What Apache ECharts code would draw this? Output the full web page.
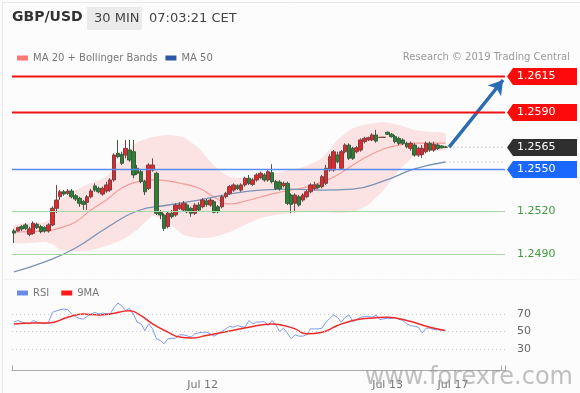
<!DOCTYPE html>
<html><head><meta charset="utf-8">
<script src="https://cdn.jsdelivr.net/npm/echarts@6/dist/echarts.min.js"></script>
<style>html,body{margin:0;padding:0;background:#fcfcfc}#c{width:580px;height:393px}</style>
</head><body><div id="c"></div>
<script>
// ---- data ----
const slotCount = 128;
const tickSlots = [49, 97, 114];
const tickLabels = ['Jul 12', 'Jul 13', 'Jul 17'];

// [open, close, low, high]
const candles = [
[1.25062,1.25047,1.24977,1.25076],[1.25062,1.25085,1.25057,1.25092],[1.25092,1.25076,1.25062,1.25104],[1.25104,1.25080,1.25068,1.25116],
[1.25038,1.25076,1.25025,1.25092],[1.25045,1.25116,1.25035,1.25130],[1.25109,1.25085,1.25075,1.25120],[1.25092,1.25057,1.25045,1.25104],
[1.25085,1.25062,1.25050,1.25095],[1.25062,1.25104,1.25050,1.25116],[1.25104,1.25221,1.25095,1.25235],[1.25221,1.25279,1.25188,1.25385],
[1.25302,1.25337,1.25280,1.25350],[1.25337,1.25321,1.25309,1.25350],[1.25326,1.25342,1.25315,1.25356],[1.25342,1.25302,1.25291,1.25356],
[1.25309,1.25286,1.25272,1.25321],[1.25291,1.25256,1.25232,1.25302],[1.25267,1.25249,1.25209,1.25279],[1.25263,1.25302,1.25209,1.25314],
[1.25302,1.25342,1.25291,1.25356],[1.25378,1.25349,1.25337,1.25396],[1.25361,1.25337,1.25326,1.25373],[1.25321,1.25361,1.25309,1.25373],
[1.25342,1.25385,1.25330,1.25408],[1.25349,1.25420,1.25337,1.25432],[1.25420,1.25595,1.25408,1.25607],[1.25607,1.25583,1.25572,1.25701],
[1.25600,1.25537,1.25525,1.25618],[1.25595,1.25642,1.25572,1.25701],[1.25630,1.25560,1.25548,1.25701],[1.25618,1.25455,1.25432,1.25701],
[1.25502,1.25467,1.25455,1.25525],[1.25478,1.25408,1.25396,1.25490],[1.25408,1.25337,1.25314,1.25420],[1.25361,1.25525,1.25349,1.25537],
[1.25490,1.25525,1.25478,1.25572],[1.25467,1.25186,1.25174,1.25478],[1.25193,1.25174,1.25145,1.25209],[1.25174,1.25080,1.25062,1.25186],
[1.25092,1.25186,1.25080,1.25197],[1.25186,1.25162,1.25150,1.25209],[1.25174,1.25244,1.25162,1.25256],[1.25221,1.25244,1.25210,1.25263],
[1.25209,1.25256,1.25197,1.25272],[1.25244,1.25197,1.25186,1.25256],[1.25221,1.25186,1.25162,1.25232],[1.25186,1.25244,1.25174,1.25256],
[1.25244,1.25209,1.25197,1.25263],[1.25232,1.25279,1.25221,1.25291],[1.25272,1.25249,1.25232,1.25286],[1.25244,1.25279,1.25232,1.25291],
[1.25267,1.25193,1.25186,1.25279],[1.25232,1.25197,1.25186,1.25244],[1.25232,1.25302,1.25221,1.25314],[1.25302,1.25326,1.25291,1.25337],
[1.25326,1.25373,1.25314,1.25385],[1.25349,1.25385,1.25337,1.25396],[1.25378,1.25361,1.25349,1.25390],[1.25349,1.25385,1.25337,1.25396],
[1.25385,1.25432,1.25373,1.25443],[1.25432,1.25396,1.25385,1.25455],[1.25389,1.25420,1.25378,1.25432],[1.25420,1.25455,1.25408,1.25467],
[1.25436,1.25467,1.25425,1.25478],[1.25455,1.25420,1.25408,1.25467],[1.25420,1.25478,1.25408,1.25490],[1.25471,1.25408,1.25396,1.25530],
[1.25408,1.25361,1.25349,1.25420],[1.25405,1.25358,1.25346,1.25418],[1.25380,1.25396,1.25368,1.25408],[1.25396,1.25256,1.25244,1.25408],
[1.25314,1.25249,1.25186,1.25326],[1.25256,1.25314,1.25193,1.25326],[1.25302,1.25244,1.25232,1.25314],[1.25279,1.25314,1.25267,1.25326],
[1.25302,1.25337,1.25291,1.25349],[1.25337,1.25385,1.25326,1.25396],[1.25361,1.25385,1.25349,1.25408],[1.25385,1.25366,1.25356,1.25396],
[1.25373,1.25443,1.25361,1.25455],[1.25396,1.25502,1.25385,1.25525],[1.25490,1.25583,1.25478,1.25600],[1.25490,1.25618,1.25478,1.25630],
[1.25595,1.25548,1.25537,1.25618],[1.25502,1.25618,1.25490,1.25630],[1.25618,1.25665,1.25607,1.25677],[1.25665,1.25572,1.25560,1.25677],
[1.25642,1.25572,1.25560,1.25653],[1.25618,1.25646,1.25607,1.25658],[1.25630,1.25701,1.25618,1.25712],[1.25689,1.25712,1.25677,1.25724],
[1.25701,1.25717,1.25693,1.25724],[1.25701,1.25736,1.25693,1.25748],[1.25736,1.25693,1.25682,1.25771],[1.25719,1.25719,1.25717,1.25721],
[1.25719,1.25720,1.25717,1.25722],[1.25755,1.25741,1.25736,1.25760],[1.25741,1.25724,1.25717,1.25750],[1.25724,1.25689,1.25677,1.25736],
[1.25712,1.25677,1.25665,1.25724],[1.25701,1.25677,1.25665,1.25712],[1.25677,1.25653,1.25642,1.25689],[1.25642,1.25677,1.25625,1.25689],
[1.25665,1.25595,1.25583,1.25677],[1.25595,1.25642,1.25583,1.25653],[1.25598,1.25642,1.25575,1.25665],[1.25618,1.25677,1.25607,1.25689],
[1.25677,1.25630,1.25618,1.25689],[1.25630,1.25670,1.25618,1.25689],[1.25665,1.25642,1.25630,1.25677],[1.25658,1.25646,1.25642,1.25665],
[1.25651,1.25650,1.25646,1.25658]
];

const bandUpper = [[0,1.25104],[8,1.25125],[10,1.25153],[12,1.25279],[16,1.25349],[20,1.25399],[24,1.25441],[28,1.25574],[32,1.25686],[36,1.25722],[40,1.25736],[44,1.25722],[48,1.25644],[52,1.25518],[56,1.25441],[60,1.25434],[64,1.25448],[68,1.25469],[72,1.25490],[76,1.25518],[80,1.25574],[84,1.25701],[88,1.25785],[92,1.25813],[96,1.25827],[100,1.25806],[104,1.25771],[108,1.25757],[112,1.25750]];
const bandLower = [[0,1.24977],[8,1.24984],[10,1.24970],[12,1.24928],[16,1.24921],[20,1.24928],[24,1.24956],[28,1.24998],[32,1.25069],[36,1.25167],[40,1.25125],[44,1.25033],[48,1.25012],[52,1.25019],[56,1.25054],[60,1.25104],[64,1.25153],[68,1.25174],[72,1.25188],[76,1.25195],[80,1.25195],[84,1.25188],[88,1.25195],[92,1.25244],[96,1.25349],[100,1.25490],[104,1.25588],[108,1.25623],[112,1.25630]];
const ma20 = [[0,1.25054],[8,1.25062],[10,1.25069],[12,1.25083],[16,1.25125],[20,1.25209],[24,1.25279],[28,1.25363],[32,1.25406],[36,1.25420],[40,1.25413],[44,1.25392],[48,1.25363],[52,1.25300],[56,1.25251],[60,1.25272],[64,1.25300],[68,1.25328],[72,1.25349],[76,1.25370],[80,1.25406],[84,1.25455],[88,1.25525],[92,1.25588],[96,1.25637],[100,1.25665],[104,1.25679],[108,1.25679],[112,1.25679]];
const ma50 = [[0,1.24774],[8,1.24844],[16,1.24942],[24,1.25083],[32,1.25202],[40,1.25244],[48,1.25279],[56,1.25321],[64,1.25349],[72,1.25356],[80,1.25349],[88,1.25356],[96,1.25413],[104,1.25497],[112,1.25546]];

const rsi = [60.6,62.5,61,59.5,58.7,62.5,60.6,59.5,58.7,60.6,
 71.9,73.5,74.9,75.7,74.9,70,67,65,64.3,67.4,
 69.5,71.9,70,71,70.5,70,77.5,82.5,79.4,73.8,
 76.4,70,60.6,58.7,51.1,58.7,53,41.7,39.8,36,
 41.7,42,42.5,46.2,46.2,45,43.6,47.4,48.5,49,
 49.2,47.4,44.7,47.4,50,53,56,54.9,56.8,55.5,
 54.9,62.5,58.7,60.6,61,61.3,56.8,62.5,57.5,50,
 53.8,48,41.7,46.2,44.7,44.7,46.2,53,53,53,
 53.8,60.6,65,68.9,66.2,60.6,66.2,68.9,61.3,63.6,
 66.2,67,67.4,66.2,68.9,63.6,64.5,65.1,65.1,65.8,
 64,62.5,58.7,56.8,56,54.9,48.5,53.8,53.8,52.3,
 52,51.5,50.5];
const rsiMa = [[0,58.7],[5,59.8],[9,59.8],[14,66.2],[18,70],[22,68.9],[25,70],[30,73.8],[33,68.1],[36,58.7],[40,49.2],[43,43.6],[46,42.5],[50,45.5],[56,50.5],[61,54.9],[67,58.7],[70,56.8],[73,53],[76,47.4],[80,49.2],[84,56.8],[88,62.5],[92,65.1],[97,66.2],[102,62.5],[108,54.9],[112,51.1]];
const rsiLevels = [30, 50, 70];

const levels = [1.2615, 1.2590, 1.2565, 1.2550, 1.2520, 1.2490];
const levelKinds = ['target', 'target', 'last', 'pivot', 'support', 'support'];
const lastPrice = 1.2565;
const arrowTarget = 1.26122;
const lastSlot = 112;

// ---- styles ----
const kindStyle = {
  target: {line: '#f01212', width: 2, tag: '#ff0a0a', text: '#ffffff'},
  last: {line: null, tag: '#2f2f2f', text: '#ffffff'},
  pivot: {line: '#5a8cf0', width: 1.6, tag: '#1a68ff', text: '#ffffff'},
  support: {line: '#a6d8a6', width: 1, tag: null, text: '#3f9a3f'}
};
const FONT = 'DejaVu Sans';
const categories = Array.from({length: slotCount}, (_, i) => 's' + i);

const chart = echarts.init(document.getElementById('c'), null, {renderer: 'canvas'});
chart.setOption({
  animation: false,
  backgroundColor: '#fcfcfc',
  textStyle: {fontFamily: FONT},
  grid: [
    {left: 12, right: 75, top: 60, height: 220},
    {left: 12, right: 75, top: 296.5, height: 70}
  ],
  xAxis: [
    {type: 'category', gridIndex: 0, data: categories, show: false, boundaryGap: true},
    {type: 'category', gridIndex: 1, data: categories, boundaryGap: true, offset: 4,
      axisLine: {lineStyle: {color: '#aaa'}},
      axisTick: {show: true, inside: true, length: 5, lineStyle: {color: '#aaa'},
        interval: (i) => i === 0 || i === slotCount - 1},
      axisLabel: {color: '#777', fontSize: 11, margin: 9,
        interval: (i) => tickSlots.indexOf(i) >= 0,
        formatter: (v, i) => { const k = tickSlots.indexOf(i); return k >= 0 ? tickLabels[k] : ''; }}
    }
  ],
  yAxis: [
    {type: 'value', gridIndex: 0, min: 1.2471742, max: 1.2626236, show: false, scale: true},
    {type: 'value', gridIndex: 1, min: 10, max: 90, interval: 20, position: 'right',
      axisLine: {show: false}, axisTick: {show: false}, splitLine: {show: false},
      axisLabel: {color: '#666', fontSize: 11, margin: 12,
        formatter: (v) => rsiLevels.indexOf(v) >= 0 ? String(v) : ''}}
  ],
  legend: [
    {data: [{name: 'MA 20 + Bollinger Bands', itemStyle: {color: '#ff7878'}}, {name: 'MA 50', itemStyle: {color: '#2d58a6'}}],
      left: 12, top: 48, icon: 'rect', itemWidth: 11, itemHeight: 5, itemGap: 8, selectedMode: false,
      textStyle: {color: '#777', fontSize: 10, fontFamily: FONT}},
    {data: [{name: 'RSI', itemStyle: {color: '#6b8be8'}}, {name: '9MA', itemStyle: {color: '#ff1a1a'}}],
      left: 12, top: 283, icon: 'rect', itemWidth: 11, itemHeight: 5, itemGap: 12, selectedMode: false,
      textStyle: {color: '#777', fontSize: 10, fontFamily: FONT}}
  ],
  graphic: [
    {type: 'rect', left: 0, top: 0, shape: {width: 579, height: 392}, style: {fill: 'none', stroke: '#e8e8e8'}, silent: true},
    {type: 'text', left: 12, top: 10, style: {text: 'GBP/USD', font: 'bold 14px ' + FONT, fill: '#333'}},
    {type: 'rect', left: 87, top: 7, shape: {width: 55, height: 23}, style: {fill: '#ebebeb'}},
    {type: 'text', left: 94, top: 12, style: {text: '30 MIN', font: '13px ' + FONT, fill: '#444'}},
    {type: 'text', left: 149, top: 12, style: {text: '07:03:21 CET', font: '13px ' + FONT, fill: '#444'}},
    {type: 'text', right: 10, top: 52, style: {text: 'Research © 2019 Trading Central', font: '10px ' + FONT, fill: '#999'}},
    {type: 'line', left: 2, top: 277, shape: {x1: 0, y1: 0, x2: 575, y2: 0}, style: {stroke: '#e2e2e2', lineDash: [1, 2]}},
    {type: 'text', right: 7, top: 366, z: 100, style: {text: 'www.forexre.com', font: '24px ' + FONT, fill: 'rgba(150,150,150,0.6)'}}
  ],
  series: [
    {type: 'custom', name: 'band', xAxisIndex: 0, yAxisIndex: 0, z: 1, silent: true,
      data: [[0, bandUpper[0][1]]],
      renderItem: (params, api) => {
        const pts = bandUpper.map(p => api.coord(p)).concat(bandLower.slice().reverse().map(p => api.coord(p)));
        return {type: 'polygon', shape: {points: pts, smooth: 0.12}, style: {fill: 'rgba(248,175,175,0.33)'}};
      }},
    {type: 'line', name: 'MA 20 + Bollinger Bands', xAxisIndex: 0, yAxisIndex: 0, z: 2, data: ma20, smooth: true,
      showSymbol: false, lineStyle: {color: '#f59a9a', width: 1.2}, itemStyle: {color: '#ff7878'}},
    {type: 'line', name: 'MA 50', xAxisIndex: 0, yAxisIndex: 0, z: 2, data: ma50, smooth: true,
      showSymbol: false, lineStyle: {color: '#7893b6', width: 1.3}, itemStyle: {color: '#2d58a6'}},
    {type: 'candlestick', name: 'GBP/USD', xAxisIndex: 0, yAxisIndex: 0, z: 3, data: candles, barWidth: 4,
      itemStyle: {color: '#e2282c', color0: '#2f7f35', borderColor: '#7a4242', borderColor0: '#3b5a3f', borderWidth: 1}},
    {type: 'line', name: 'lastExt', xAxisIndex: 0, yAxisIndex: 0, z: 3, showSymbol: false,
      data: [[lastSlot, lastPrice], [slotCount - 1, lastPrice]], lineStyle: {color: '#999', width: 1, type: [1, 3]},
      markLine: {silent: true, symbol: ['none', 'arrow'], symbolSize: [13, 14], label: {show: false},
        lineStyle: {color: '#2c6cb2', width: 3.5, type: 'solid'},
        data: [[{coord: [lastSlot + 1, lastPrice]}, {coord: [slotCount - 1, arrowTarget]}]]}},
    {type: 'line', name: 'ma50Ext', xAxisIndex: 0, yAxisIndex: 0, z: 3, showSymbol: false,
      data: [[lastSlot, ma50[ma50.length - 1][1]], [slotCount - 1, ma50[ma50.length - 1][1]]],
      lineStyle: {color: '#a0a8b8', width: 1, type: [1, 3]}},
    {type: 'custom', name: 'levels', xAxisIndex: 0, yAxisIndex: 0, z: 6, clip: false, silent: true,
      data: levels.map((v, i) => [0, v, i]),
      renderItem: (params, api) => {
        const cs = params.coordSys;
        const v = api.value(1);
        const y = Math.round(api.coord([0, v])[1]) + 0.5;
        const st = kindStyle[levelKinds[api.value(2)]];
        const x0 = cs.x, x1 = cs.x + cs.width;
        const ch = [];
        if (st.line) ch.push({type: 'line', shape: {x1: x0, y1: y, x2: x1, y2: y}, style: {stroke: st.line, lineWidth: st.width}});
        const tx = x1 + 2;
        if (st.tag) ch.push({type: 'polygon', shape: {points: [[tx, y], [tx + 6, y - 8.5], [tx + 70, y - 8.5], [tx + 70, y + 8.5], [tx + 6, y + 8.5]]}, style: {fill: st.tag}});
        ch.push({type: 'text', style: {x: tx + 10, y: y, text: v.toFixed(4), fill: st.text, font: '11px ' + FONT, align: 'left', verticalAlign: 'middle'}});
        return {type: 'group', children: ch};
      }},
    {type: 'line', name: 'RSI', xAxisIndex: 1, yAxisIndex: 1, z: 3, data: rsi, showSymbol: false,
      lineStyle: {color: '#7e9cf0', width: 1}, itemStyle: {color: '#6b8be8'},
      markLine: {silent: true, symbol: 'none', label: {show: false},
        lineStyle: {color: '#c8c8c8', width: 1, type: [1, 3]},
        data: rsiLevels.map(v => ({yAxis: v}))}},
    {type: 'line', name: '9MA', xAxisIndex: 1, yAxisIndex: 1, z: 4, data: rsiMa, smooth: true, showSymbol: false,
      lineStyle: {color: '#ee2a2a', width: 1.5}, itemStyle: {color: '#ff1a1a'}}
  ]
});
</script></body></html>
